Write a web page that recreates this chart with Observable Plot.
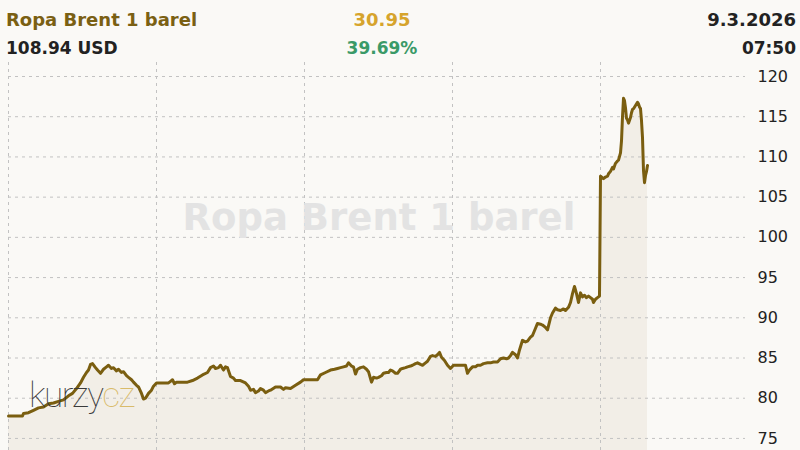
<!DOCTYPE html>
<html>
<head>
<meta charset="utf-8">
<script src="https://cdn.jsdelivr.net/npm/d3@7"></script>
<script src="https://cdn.jsdelivr.net/npm/@observablehq/plot@0.6"></script>
<style>
  html, body { margin: 0; padding: 0; background: #faf9f6; }
  #wrap { position: relative; width: 800px; height: 450px; overflow: hidden; background: #faf9f6; font-family: "DejaVu Sans", Verdana, sans-serif; }
  .h { position: absolute; font-weight: bold; line-height: 1; white-space: nowrap; }
  #chart { position: absolute; left: 0; top: 62px; }
  #logo { position: absolute; left: 29px; top: 378px; font-family: Roboto, Lato, sans-serif; font-weight: 100; font-size: 35px; letter-spacing: -1.5px; line-height: 1; }
</style>
</head>
<body>
<div id="wrap">
  <div class="h" id="title" style="left:6px; top:11px; font-size:18px; color:#7a6013;"></div>
  <div class="h" id="change" style="left:0; width:764px; text-align:center; top:11px; font-size:18px; color:#d6a42c;"></div>
  <div class="h" id="date" style="right:4px; top:11px; font-size:18px; color:#222;"></div>
  <div class="h" id="price" style="left:6px; top:40px; font-size:17px; color:#222;"></div>
  <div class="h" id="pct" style="left:0; width:764px; text-align:center; top:40px; font-size:17px; color:#3a9a68;"></div>
  <div class="h" id="time" style="right:4px; top:40px; font-size:17px; color:#222;"></div>
  <div id="chart"></div>
  <div id="logo"><span style="color:#3a3a3a">kurzy</span><span style="color:#d9bb6a">cz</span></div>
</div>
<script>
// Header texts
const titleText = "Ropa Brent 1 barel";
const priceText = "108.94 USD";
const changeText = "30.95";
const pctText = "39.69%";
const dateText = "9.3.2026";
const timeText = "07:50";

// Series: observation step (≈10 min each, 148 steps per gridline) and price in USD
const steps = [0,14,15,20,25,30,35,40,45,50,55,60,64,68,72,75,78,80,82,84,87,89,92,95,98,100,103,105,108,110,113,115,118,120,123,125,128,130,133,135,137,140,143,145,148,160,162,164,166,168,179,184,189,194,199,202,205,207,210,212,215,217,219,222,225,227,232,237,240,242,245,247,250,252,255,257,260,262,267,272,275,277,282,287,292,295,309,312,317,322,326,329,332,335,338,340,343,345,347,349,352,355,358,360,363,365,368,370,373,375,378,380,382,384,387,389,392,394,397,399,402,404,407,409,412,414,417,419,422,424,427,429,431,433,436,439,442,445,457,459,461,464,467,469,472,475,479,482,485,489,492,495,498,500,502,504,507,509,511,514,517,519,522,524,527,529,532,534,537,539,542,544,547,549,552,555,557,560,562,564,566,568,570,572,574,576,578,580,582,584,585,587,589,591,592,595,597,599,600,602,604,605,607,609,610,612,613,614,615,616,617,618,619,620,622,623,624,625,627,629,630,631,632,633,634,635,636,637,638,639,640,641,643,644],
      prices = [77.8,77.8,78.1,78.2,78.5,78.8,78.9,79.3,79.4,79.6,79.8,80.3,80.6,81.2,81.9,82.6,83.2,83.5,84.2,84.3,83.8,83.5,83.1,83.6,83.9,84.1,83.7,83.8,83.4,83.6,83.2,83.3,82.8,82.6,82.3,82.0,81.6,81.4,80.6,79.9,80.0,80.6,81.0,81.5,81.9,81.9,82.1,82.3,81.8,82.0,82.0,82.2,82.5,82.9,83.2,83.8,84.0,83.7,83.8,84.1,83.5,83.9,83.8,82.7,82.5,82.2,82.2,81.9,81.5,81.0,81.1,80.7,80.9,81.2,81.0,80.7,80.9,81.0,81.4,81.4,81.1,81.3,81.2,81.6,82.0,82.3,82.3,82.9,83.2,83.5,83.6,83.7,83.8,83.9,84.0,84.4,84.0,83.9,83.0,83.6,83.8,83.9,83.6,83.3,82.0,82.6,82.5,82.6,82.8,83.1,83.2,83.2,83.5,83.4,83.1,83.1,83.6,83.7,83.8,83.9,84.0,84.1,84.3,84.4,84.2,84.1,84.4,84.6,85.2,85.3,85.2,85.4,85.7,85.1,84.7,84.1,83.7,84.1,84.1,83.1,83.5,83.9,83.9,84.1,84.1,84.3,84.4,84.4,84.5,84.5,84.9,85.0,84.9,85.0,85.3,85.7,85.4,85.0,86.0,87.2,87.0,87.1,87.6,87.8,88.7,89.3,89.2,89.1,88.8,88.5,90.0,90.6,91.2,91.0,90.9,91.1,90.9,91.3,91.9,93.0,93.9,93.0,91.9,93.1,92.6,92.8,92.5,92.7,92.5,92.3,91.9,92.3,92.5,92.7,107.6,107.3,107.5,107.6,107.9,108.2,108.7,108.5,109.2,109.5,109.6,110.5,112.0,115.0,117.3,117.0,116.1,114.8,114.6,114.2,114.9,115.5,115.9,116.0,116.4,116.8,116.6,116.2,116.0,114.5,112.4,108.3,106.8,107.7,108.2,108.94];

const dayTicks = [0, 148, 296, 444, 592, 740];
const priceTicks = [75, 80, 85, 90, 95, 100, 105, 110, 115, 120];

document.getElementById("title").textContent = titleText;
document.getElementById("price").textContent = priceText;
document.getElementById("change").textContent = changeText;
document.getElementById("pct").textContent = pctText;
document.getElementById("date").textContent = dateText;
document.getElementById("time").textContent = timeText;

const n = Math.min(steps.length, prices.length);
const data = d3.range(n).map(i => ({step: steps[i], price: prices[i]}));
const yMin = 73.5;

const chart = Plot.plot({
  width: 800,
  height: 388,
  marginTop: 0,
  marginBottom: 0,
  marginLeft: 8,
  marginRight: 55,
  style: {background: "transparent", fontFamily: "DejaVu Sans, Verdana, sans-serif", fontSize: "16px", color: "#222"},
  x: {domain: [0, 737], axis: null},
  y: {domain: [yMin, 121.74], axis: null},
  marks: [
    Plot.areaY(data, {x: "step", y1: yMin, y2: "price", fill: "#f2eee7"}),
    Plot.ruleX(dayTicks.filter(d => d <= 737), {stroke: "#c2c2c2", strokeWidth: 1, strokeDasharray: "3,4"}),
    Plot.ruleY(priceTicks, {stroke: "#c2c2c2", strokeWidth: 1, strokeDasharray: "3,4"}),
    Plot.text([titleText], {frameAnchor: "middle", dx: 2, dy: -38, fontSize: 37, fontWeight: "bold", fill: "#e3e3e3"}),
    Plot.line(data, {x: "step", y: "price", stroke: "#7a5e10", strokeWidth: 3, strokeLinejoin: "round"}),
    Plot.axisY(priceTicks, {anchor: "right", label: null, tickSize: 0, tickPadding: 12, fontSize: 16, fill: "#222"})
  ]
});
document.getElementById("chart").appendChild(chart);
</script>
</body>
</html>
